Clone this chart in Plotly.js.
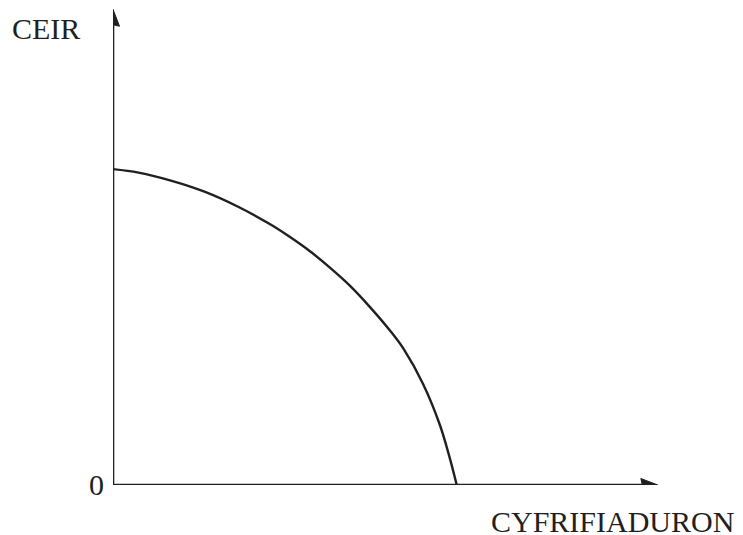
<!DOCTYPE html>
<html>
<head>
<meta charset="utf-8">
<script src="https://cdn.plot.ly/plotly-3.0.1.min.js"></script>
<style>html,body{margin:0;padding:0;background:#fff;}#chart{width:743px;height:535px;}</style>
</head>
<body>
<div id="chart"></div>
<script>
// Production possibility frontier
const computers = [0, 7.4, 17.1, 26.8, 36.4, 46.1, 51.5, 57.3, 63.1, 68.9, 74.7, 80.5, 84.4, 90.2, 95.1, 97.7, 100];
const cars      = [100, 98.9, 96.3, 92.8, 88.1, 82.3, 78.5, 74.0, 68.8, 63.1, 56.4, 49.0, 43.3, 32.0, 19.0, 9.6, 0];
const xLabel = "CYFRIFIADURON";
const yLabel = "CEIR";
const originLabel = "0";
const xMax = 160, yMax = 151;
const xTip = 158.5, yTip = 150.6;

const ink = "#231f20";
const font = {family: "Liberation Serif, Times New Roman, serif", size: 30, color: ink};

const trace = {
  x: computers, y: cars, type: "scatter", mode: "lines",
  line: {color: ink, width: 2.4, shape: "spline", smoothing: 1, simplify: false},
  hoverinfo: "skip", cliponaxis: false
};

const W = 743, H = 535, M = {l: 113, r: 80, t: 8, b: 50};
const pxPerX = (W - M.l - M.r) / xMax;   // pixels per x unit
const pxPerY = (H - M.t - M.b) / yMax;   // pixels per y unit

const axisLine = (x1, y1) => ({
  type: "line", xref: "x", yref: "y", x0: 0, y0: 0, x1: x1, y1: y1,
  line: {color: ink, width: 2.6}, layer: "above"
});
// arrowheads: length/width given in pixels, converted to axis units
const headLen = 17, headHalf = 6.5, notch = 15.5;
const headRight = {
  type: "path", xref: "x", yref: "y",
  path: `M ${xTip} 0 L ${xTip - headLen / pxPerX} ${headHalf / pxPerY} L ${xTip - notch / pxPerX} 0 L ${xTip - headLen / pxPerX} ${-headHalf / pxPerY} Z`,
  fillcolor: ink, line: {color: ink, width: 1}, layer: "above"
};
const headUp = {
  type: "path", xref: "x", yref: "y",
  path: `M 0 ${yTip} L ${-headHalf / pxPerX} ${yTip - headLen / pxPerY} L 0 ${yTip - notch / pxPerY} L ${headHalf / pxPerX} ${yTip - headLen / pxPerY} Z`,
  fillcolor: ink, line: {color: ink, width: 1}, layer: "above"
};

const layout = {
  width: W, height: H,
  margin: M,
  paper_bgcolor: "#fff", plot_bgcolor: "#fff",
  showlegend: false,
  xaxis: {range: [0, xMax], showgrid: false, zeroline: false, showline: false, showticklabels: false, ticks: ""},
  yaxis: {range: [0, yMax], showgrid: false, zeroline: false, showline: false, showticklabels: false, ticks: ""},
  shapes: [axisLine(xTip - 4, 0), axisLine(0, yTip - 4), headRight, headUp],
  annotations: [
    {x: -0.1218, y: 0.956, xref: "paper", yref: "paper", text: yLabel, showarrow: false, font: font, xanchor: "center", yanchor: "middle", borderpad: 0},
    {x: 0.909, y: -0.0755, xref: "paper", yref: "paper", text: xLabel, showarrow: false, font: font, xanchor: "center", yanchor: "middle", borderpad: 0},
    {x: -0.0309, y: 0.002, xref: "paper", yref: "paper", text: originLabel, showarrow: false, font: font, xanchor: "center", yanchor: "middle", borderpad: 0}
  ]
};

Plotly.newPlot("chart", [trace], layout, {staticPlot: true, displayModeBar: false});
</script>
</body>
</html>
